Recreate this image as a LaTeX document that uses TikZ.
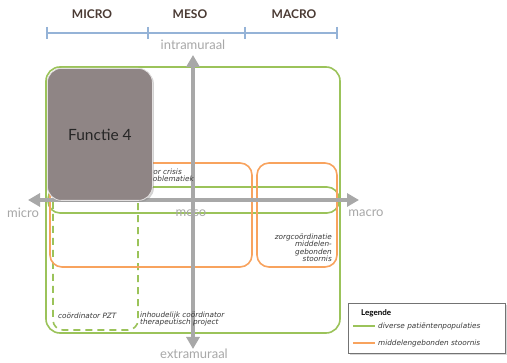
\documentclass[tikz,border=0pt]{standalone}
\usepackage{fontspec}
\setmainfont{Lato}
\newfontfamily\kleinfont{DejaVu Sans}
\usetikzlibrary{arrows.meta,shadows}
\definecolor{groen}{HTML}{9BC35A}
\definecolor{oranje}{HTML}{F8A35E}
\definecolor{asgrijs}{HTML}{A8A8A8}
\definecolor{schaal}{HTML}{95B3D7}
\definecolor{bruin}{HTML}{4A3A33}
\definecolor{functie}{HTML}{8F8585}
\definecolor{tekst}{HTML}{383838}

\begin{document}
\begin{tikzpicture}[x=1pt,y=-1pt,
    groenlijn/.style={draw=groen,line width=1.6pt,rounded corners=14pt},
    oranjelijn/.style={draw=oranje,line width=1.6pt,rounded corners=12pt},
    as/.style={draw=asgrijs,line width=3.5pt,
      {Triangle[length=12pt,width=13pt]}-{Triangle[length=12pt,width=13pt]}},
    aslabel/.style={text=asgrijs,font=\fontsize{13}{13}\selectfont,inner sep=0pt},
    kop/.style={text=bruin,font=\bfseries\fontsize{12}{12}\selectfont,inner sep=0pt},
    klein/.style={text=tekst,font=\kleinfont\itshape\fontsize{7.3}{7.2}\selectfont,inner sep=0pt}]
  \useasboundingbox[fill=white] (0,0) rectangle (507,363);

  % schaal bovenaan
  \coordinate (s0) at ( 47,33);
  \coordinate (s1) at (148,33);
  \coordinate (s2) at (245,33);
  \coordinate (s3) at (337,33);
  \draw[schaal,line width=1.6pt] (s0) -- (s3);
  \foreach \i in {0,...,3}
    \draw[schaal,line width=1.6pt] ([yshift=6pt]s\i) -- ([yshift=-6pt]s\i);
  \node[kop] (kmicro) at ( 92,14) {MICRO};
  \node[kop] (kmeso)  at (190,14) {MESO};
  \node[kop] (kmacro) at (294,14) {MACRO};

  % kaders
  \draw[groenlijn] (46,67) rectangle (340,333);
  \draw[groenlijn,dash pattern=on 7pt off 5pt,rounded corners=10pt] (53,72) rectangle (138,330);
  \draw[groenlijn,rounded corners=12pt] (48,187) rectangle (339,213);
  \draw[oranjelijn] (50,163) rectangle (252,267);
  \draw[oranjelijn] (257,163) rectangle (337,267);

  % assen
  \coordinate (intra) at (193,55);
  \coordinate (extra) at (193,349);
  \coordinate (links) at (28,200);
  \coordinate (rechts) at (359,200);
  \draw[as] (extra) -- (intra);
  \draw[as] (links) -- (rechts);
  \node[aslabel] (lintra) at (193,45) {intramuraal};
  \node[aslabel] (lextra) at (194,354) {extramuraal};
  \node[aslabel] (lmicro) at (23,213) {micro};
  \node[aslabel] (lmeso)  at (191,213) {meso};
  \node[aslabel] (lmacro) at (366,213) {macro};

  % teksten
  \node[klein,anchor=east] (crisis1) at (182,172) {coördinator crisis};
  \node[klein,anchor=east] (crisis2) at (194,179) {problematiek};
  \node[klein,align=right,anchor=north east] (zorg) at (332,234)
    {zorgcoördinatie\\middelen-\\gebonden\\stoornis};
  \node[klein,anchor=west] (pzt) at (58,316) {coördinator PZT};
  \node[klein,align=left,anchor=north west] (inhoud) at (140,312)
    {inhoudelijk coördinator\\therapeutisch project};

  % functie 4
  \node[draw=white!75!functie,line width=0.8pt,fill=functie,rounded corners=14pt,
    drop shadow={shadow xshift=1.5pt,shadow yshift=-1.5pt,opacity=0.35},
    minimum width=105pt,minimum height=132pt,anchor=north west,
    font=\fontsize{15.5}{15.5}\selectfont,text=black!85] (f4) at (47,68) {Functie 4};

  % legende
  \node[draw=black!55,line width=1.2pt,fill=white,
    drop shadow={shadow xshift=1.5pt,shadow yshift=-1.5pt,opacity=0.3},
    minimum width=157pt,minimum height=50pt,anchor=north west] (legende) at (348,303) {};
  \node[anchor=west,inner sep=0pt,text=black,font=\bfseries\fontsize{8}{8}\selectfont]
    (legkop) at ([xshift=13pt,yshift=-10pt]legende.north west) {Legende};
  \coordinate (g1) at ([xshift=5pt,yshift=-23pt]legende.north west);
  \coordinate (g2) at ([xshift=27pt,yshift=-23pt]legende.north west);
  \coordinate (o1) at ([xshift=5pt,yshift=-40pt]legende.north west);
  \coordinate (o2) at ([xshift=27pt,yshift=-40pt]legende.north west);
  \draw[groen,line width=1.6pt] (g1) -- (g2);
  \draw[oranje,line width=1.6pt] (o1) -- (o2);
  \node[klein,anchor=west] (leg1) at ([xshift=3pt]g2) {diverse patiëntenpopulaties};
  \node[klein,anchor=west] (leg2) at ([xshift=3pt]o2) {middelengebonden stoornis};
\end{tikzpicture}
\end{document}
